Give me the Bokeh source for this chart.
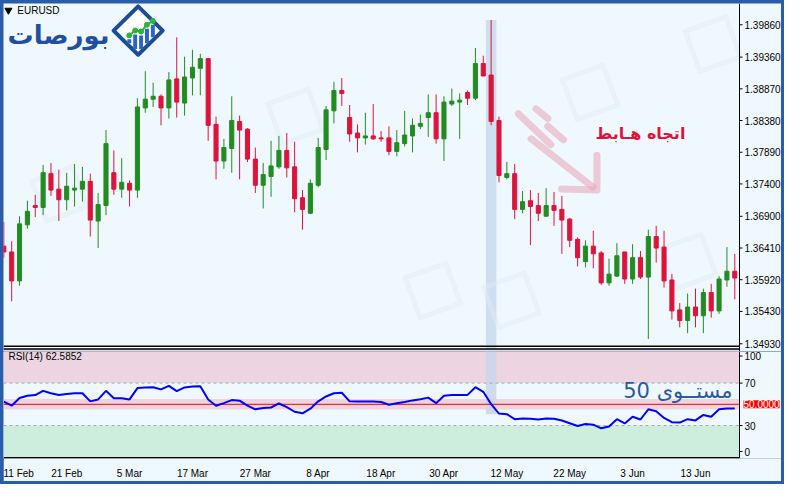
import numpy as np
from bokeh.plotting import figure
from bokeh.models import (Range1d, FixedTicker, Label, BoxAnnotation, ColumnDataSource)
from bokeh.layouts import column
from bokeh.embed import file_html
from bokeh.resources import INLINE
from bokeh.core.properties import value

# ---------------- data (EURUSD daily, 11 Feb - 20 Jun) ----------------
date_ticks = [0, 8, 16, 24, 32, 40, 48, 56, 64, 72, 80, 88]
date_labels = ["11 Feb", "21 Feb", "5 Mar", "17 Mar", "27 Mar", "8 Apr",
               "18 Apr", "30 Apr", "12 May", "22 May", "3 Jun", "13 Jun"]

open_ = [1.36439, 1.36349, 1.35901, 1.36768, 1.37066, 1.37037, 1.37559, 1.37320, 1.37156, 1.37305,
         1.37320, 1.37440, 1.36827, 1.37066, 1.37574, 1.37320, 1.37410, 1.37305, 1.38575, 1.38710,
         1.38755, 1.38575, 1.39023, 1.38650, 1.39038, 1.39188, 1.39337, 1.38321, 1.37754, 1.37948,
         1.38366, 1.38247, 1.37784, 1.37380, 1.37515, 1.37664, 1.37918, 1.37664, 1.37186, 1.36947,
         1.37380, 1.37933, 1.38530, 1.38844, 1.38426, 1.38187, 1.38112, 1.38142, 1.38112, 1.38112,
         1.37903, 1.38023, 1.38142, 1.38291, 1.38426, 1.38501, 1.38097, 1.38635, 1.38665, 1.38814,
         1.38725, 1.39262, 1.39083, 1.38381, 1.37500, 1.37559, 1.37007, 1.37141, 1.37066, 1.36902,
         1.37066, 1.37007, 1.36857, 1.36544, 1.36200, 1.36439, 1.36334, 1.35871, 1.35976, 1.36349,
         1.35931, 1.36260, 1.35961, 1.36588, 1.36424, 1.35916, 1.35453, 1.35289, 1.35498, 1.35363,
         1.35722, 1.35438, 1.35916, 1.36051]
high = [1.36812, 1.36514, 1.36902, 1.37141, 1.37231, 1.37694, 1.37724, 1.37619, 1.37574, 1.37709,
        1.37664, 1.37559, 1.37261, 1.38232, 1.37918, 1.37798, 1.37455, 1.38725, 1.39143, 1.38964,
        1.38784, 1.39128, 1.39666, 1.39367, 1.39472, 1.39412, 1.39337, 1.38441, 1.38097, 1.38755,
        1.38456, 1.38262, 1.37963, 1.37724, 1.38067, 1.38142, 1.38187, 1.38052, 1.37305, 1.37470,
        1.38112, 1.38605, 1.38979, 1.39038, 1.38620, 1.38321, 1.38501, 1.38635, 1.38217, 1.38291,
        1.38232, 1.38530, 1.38411, 1.38471, 1.38784, 1.38784, 1.38755, 1.38874, 1.38799, 1.38844,
        1.39502, 1.39382, 1.39935, 1.38441, 1.37739, 1.37709, 1.37291, 1.37305, 1.37261, 1.37335,
        1.37276, 1.37216, 1.36872, 1.36573, 1.36529, 1.36678, 1.36364, 1.36245, 1.36484, 1.36349,
        1.36469, 1.36364, 1.36693, 1.36753, 1.36678, 1.36006, 1.35558, 1.35707, 1.35782, 1.35782,
        1.35856, 1.35976, 1.36424, 1.36320]
low = [1.36260, 1.35587, 1.35827, 1.36708, 1.36887, 1.36917, 1.37216, 1.36827, 1.36992, 1.37052,
       1.37126, 1.36588, 1.36409, 1.36917, 1.37231, 1.37186, 1.37052, 1.37186, 1.38501, 1.38590,
       1.38306, 1.38411, 1.38426, 1.38456, 1.38770, 1.38770, 1.38067, 1.37470, 1.37634, 1.37574,
       1.37470, 1.37739, 1.37261, 1.37022, 1.37201, 1.37634, 1.37500, 1.36962, 1.36693, 1.36932,
       1.37350, 1.37769, 1.38336, 1.38605, 1.38052, 1.37888, 1.38008, 1.38082, 1.38052, 1.37843,
       1.37828, 1.37978, 1.37888, 1.38247, 1.38127, 1.38023, 1.37754, 1.38605, 1.38097, 1.38620,
       1.38695, 1.39068, 1.38306, 1.37425, 1.37470, 1.36857, 1.36947, 1.36454, 1.36827, 1.36902,
       1.36753, 1.36320, 1.36424, 1.36125, 1.36110, 1.36095, 1.35841, 1.35827, 1.35961, 1.35856,
       1.35856, 1.35931, 1.35005, 1.36185, 1.35797, 1.35304, 1.35184, 1.35094, 1.35184, 1.35094,
       1.35334, 1.35393, 1.35812, 1.35617]
close = [1.36349, 1.35901, 1.36783, 1.36977, 1.37037, 1.37574, 1.37305, 1.37156, 1.37365, 1.37335,
         1.37440, 1.36842, 1.37081, 1.38023, 1.37320, 1.37425, 1.37305, 1.38590, 1.38710, 1.38755,
         1.38575, 1.39008, 1.38665, 1.39053, 1.39203, 1.39337, 1.38306, 1.37754, 1.37963, 1.38381,
         1.38232, 1.37784, 1.37380, 1.37545, 1.37679, 1.37918, 1.37649, 1.37171, 1.37007, 1.37410,
         1.37963, 1.38545, 1.38844, 1.38799, 1.38172, 1.38112, 1.38142, 1.38097, 1.38097, 1.37903,
         1.38037, 1.38157, 1.38306, 1.38336, 1.38501, 1.38097, 1.38665, 1.38680, 1.38695, 1.38725,
         1.39262, 1.39068, 1.38366, 1.37530, 1.37559, 1.37007, 1.37126, 1.37052, 1.36947, 1.37066,
         1.36992, 1.36842, 1.36529, 1.36260, 1.36439, 1.36320, 1.35871, 1.36006, 1.36290, 1.35931,
         1.36260, 1.35961, 1.36588, 1.36409, 1.35901, 1.35438, 1.35289, 1.35498, 1.35363, 1.35722,
         1.35438, 1.35931, 1.36051, 1.35946]
rsi = [52.6, 48.7, 56.0, 58.0, 58.7, 62.7, 60.4, 58.7, 59.8, 60.4,
       60.4, 52.8, 54.6, 62.7, 55.7, 55.7, 54.6, 65.3, 65.9, 66.1,
       64.1, 67.4, 62.4, 65.9, 66.8, 67.0, 54.6, 48.7, 51.1, 54.0,
       53.4, 48.7, 45.3, 46.5, 47.0, 50.8, 47.4, 43.0, 41.5, 45.9,
       52.8, 57.4, 60.4, 60.9, 52.8, 52.6, 52.6, 52.6, 52.2, 49.6,
       51.1, 52.2, 53.7, 54.8, 56.3, 51.1, 58.0, 58.7, 58.9, 58.9,
       66.1, 61.8, 50.2, 41.3, 40.7, 36.0, 36.6, 36.3, 35.7, 36.6,
       36.3, 34.8, 32.2, 29.6, 31.4, 30.8, 27.4, 29.1, 36.0, 32.0,
       38.3, 35.7, 45.3, 43.5, 37.2, 33.1, 32.8, 36.0, 34.8, 40.0,
       38.3, 45.3, 46.1, 46.1]
price_ticks = [1.39860, 1.39360, 1.38870, 1.38380, 1.37890, 1.37400,
               1.36900, 1.36410, 1.35920, 1.35430, 1.34930]
rsi_levels = [30, 50, 70]
rsi_scale_labels = ["0", "30", "70", "100"]
highlight_idx = 62          # 8 May candle
band_rsi_bottom = 40.7

# ---------------- styling ----------------
BG = "#f0f8ff"
FRAME = "#2a5caa"
UP = "#228b22"
DN = "#dc143c"
AXFONT = "Liberation Sans"
AR_FONT = "DejaVu Sans"

W_IN = 778
H_MAIN = 348
H_RSI = 130
SCALE_W = 42                       # width of the price-scale strip

idx = np.arange(len(close))
o = np.array(open_); c = np.array(close)
colors = [UP if cc >= oo else DN for oo, cc in zip(o, c)]
src = ColumnDataSource(dict(x=idx, o=o, c=c, h=high, l=low,
                            top=np.maximum(o, c), bot=np.minimum(o, c), col=colors))

X0, X1 = -0.04, 93.6               # chart area (bars), X1 = scale line
PX = (W_IN - SCALE_W) / (X1 - X0)  # pixels per bar
X_END = X0 + W_IN / PX
x_rng = Range1d(X0, X_END)

# helpers to place decorations (reference-pixel -> data)
def X(px):
    return (px - 3.3) / 8.0

def Y(py):
    return 1.402335 - 0.00014939 * py

def R(py):
    return 102.4 - (py - 360) / 1.15

SPLIT = 363                         # reference row where the RSI panel begins
y_lo, y_hi = Y(SPLIT), Y(3)
r_lo, r_hi = R(479), R(SPLIT)

# ---------------- main price panel ----------------
p = figure(width=W_IN, height=H_MAIN, x_range=x_rng, y_range=Range1d(y_lo, y_hi),
           output_backend="svg", toolbar_location=None,
           x_axis_location=None, y_axis_location=None,
           min_border_left=0, min_border_right=0, min_border_top=0, min_border_bottom=0,
           background_fill_color=BG, border_fill_color=BG, outline_line_color=None)
p.grid.visible = False

# RSI window background strip (top part that lies inside this figure)
p.quad(left=[X0], right=[X1], bottom=[y_lo], top=[Y(360.5)], fill_color="#ecd5e1",
       line_color=None)

# highlighted day band
p.vbar(x=[highlight_idx], width=1.34, top=[high[highlight_idx]], bottom=[y_lo],
       fill_color="#cfdef0", line_color=None)

# faint watermark icons
def wm_icon(px, py, s=22, ang=-0.35):
    pts = [(-s, -s), (s, -s), (s, s), (-s, s)]
    ca, sa = np.cos(ang), np.sin(ang)
    xs = [X(px + ca * a - sa * b) for a, b in pts]
    ys = [Y(py + sa * a + ca * b) for a, b in pts]
    return xs, ys

for (wx, wy) in [(600, 95), (700, 270), (300, 120), (520, 310), (440, 300), (60, 200), (725, 45)]:
    xs, ys = wm_icon(wx, wy)
    p.patch(xs, ys, fill_color=None, line_color="#e2eaf3", line_width=5, line_join="round",
            line_alpha=0.5)

# candles
p.segment(x0="x", y0="h", x1="x", y1="l", line_color="col", line_width=1, source=src)
p.vbar(x="x", width=0.52, top="top", bottom="bot", fill_color="col", line_color="col",
       line_width=1, source=src)

# price scale: line, ticks, labels
p.segment(x0=[X1], x1=[X1], y0=[y_lo], y1=[y_hi], line_color="black", line_width=1)
p.segment(x0=[X1] * len(price_ticks), x1=[X1 + 3 / PX] * len(price_ticks),
          y0=price_ticks, y1=price_ticks, line_color="black", line_width=1)
p.text(x=[X1 + 5 / PX] * len(price_ticks), y=price_ticks,
       text=[f"{t:.5f}" for t in price_ticks], text_font=value(AXFONT),
       text_font_size="10px", text_color="black", text_baseline="middle", text_align="left")
# window separator (double line)
p.segment(x0=[X0, X0], x1=[X1, X1], y0=[Y(357.5), Y(360.3)], y1=[Y(357.5), Y(360.3)],
          line_color="black", line_width=1.5)

# down arrow decoration
arrow_xs = [[X(527), X(560)], [X(545), X(557)], [X(557), X(573)],
            [X(540), X(603)], [X(571), X(607), X(607)]]
arrow_ys = [[Y(117), Y(149)], [Y(112), Y(122)], [Y(130), Y(144)],
            [Y(143), Y(193)], [Y(195), Y(196), Y(160)]]
p.multi_line(arrow_xs, arrow_ys, line_color="#e8a2b4", line_alpha=0.55, line_width=7,
             line_cap="round", line_join="round")

p.add_layout(Label(x=X(697), y=Y(137), text="اتجاه هـابط", text_font=AR_FONT,
                   text_font_size="16px", text_font_style="bold", text_color=DN,
                   text_align="right", text_baseline="middle"))

# symbol caption
p.scatter(x=[X(8)], y=[Y(10)], marker="inverted_triangle", size=7, color="black")
p.add_layout(Label(x=X(17), y=Y(10), text="EURUSD", text_font=AXFONT,
                   text_font_size="10px", text_color="black", text_baseline="middle"))

# logo
p.add_layout(Label(x=X(111), y=Y(36), text="بورصات", text_font=AR_FONT,
                   text_font_size="26px", text_font_style="bold", text_color="#1f4f9e",
                   text_align="right", text_baseline="middle"))
cx, cy, rr = 140, 31, 25
p.patch([X(cx), X(cx + rr), X(cx), X(cx - rr)], [Y(cy - rr), Y(cy), Y(cy + rr), Y(cy)],
        fill_color="white", line_color="#1e4d97", line_width=4, line_join="round")
bar_px = [131, 137, 143, 149, 155]
bar_top = [40, 35, 36, 29, 25]
bar_bot = [cy + rr - abs(b - cx) - 3 for b in bar_px]
p.vbar(x=[X(b) for b in bar_px], width=0.5, top=[Y(t) for t in bar_top],
       bottom=[Y(b) for b in bar_bot], fill_color="#2d66c2", line_color=None)
p.line([X(b) for b in bar_px], [Y(t - 4) for t in bar_top], line_color="#2bb33a", line_width=2)
p.scatter([X(b) for b in bar_px], [Y(t - 4) for t in bar_top], size=5, color="#2bb33a")

# ---------------- RSI panel ----------------
r = figure(width=W_IN, height=H_RSI, x_range=x_rng, y_range=Range1d(r_lo, r_hi),
           output_backend="svg", toolbar_location=None, y_axis_location=None,
           min_border_left=0, min_border_right=0, min_border_top=0, min_border_bottom=17,
           background_fill_color=BG, border_fill_color=BG, outline_line_color=None)
r.grid.visible = False
r.add_layout(BoxAnnotation(left=X0, right=X1, bottom=rsi_levels[2], fill_color="#ecd5e1",
                           fill_alpha=1, line_color=None, level="underlay"))
r.add_layout(BoxAnnotation(left=X0, right=X1, top=rsi_levels[0], fill_color="#cdeedd",
                           fill_alpha=1, line_color=None, level="underlay"))
r.add_layout(BoxAnnotation(left=X0, right=X1, bottom=rsi_levels[1] - 5, top=rsi_levels[1] + 5,
                           fill_color="#ecd5e1", fill_alpha=1, line_color=None, level="underlay"))
r.vbar(x=[highlight_idx], width=1.34, top=[r_hi], bottom=[band_rsi_bottom],
       fill_color="#c9d6ea", fill_alpha=0.85, line_color=None)
r.segment(x0=[X0, X0], x1=[X1, X1], y0=[rsi_levels[0], rsi_levels[2]],
          y1=[rsi_levels[0], rsi_levels[2]], line_color="#a8a8a8", line_dash="3 3", line_width=1)
r.segment(x0=[X0], x1=[X1], y0=[rsi_levels[1]], y1=[rsi_levels[1]],
          line_color="#ff0000", line_width=1)
r.line(idx, rsi, line_color="#0000ff", line_width=2)

# frame lines (bottom, scale line)
r.segment(x0=[X0], x1=[X1], y0=[R(478.3)], y1=[R(478.3)], line_color="black", line_width=1.5)
r.segment(x0=[X1], x1=[X1], y0=[R(478.3)], y1=[r_hi], line_color="black", line_width=1)

# RSI scale (ticks + labels); end labels sit just inside the panel
rsi_label_pos = [5.5, rsi_levels[0], rsi_levels[2], 95.5]
r.segment(x0=[X1] * 4, x1=[X1 + 3 / PX] * 4, y0=rsi_label_pos, y1=rsi_label_pos,
          line_color="black", line_width=1)
r.text(x=[X1 + 5 / PX] * 4, y=rsi_label_pos, text=rsi_scale_labels,
       text_font=value(AXFONT), text_font_size="10px", text_color="black",
       text_baseline="middle", text_align="left")
r.add_layout(Label(x=X1 + 4 / PX, y=rsi_levels[1], text="50.0000", text_font=AXFONT,
                   text_font_size="10px", text_color="white", text_baseline="middle",
                   background_fill_color="#ff0000"))

xa = r.xaxis[0]
xa.ticker = FixedTicker(ticks=date_ticks)
xa.major_label_overrides = {t: s for t, s in zip(date_ticks, date_labels)}
xa.major_tick_line_color = None
xa.minor_tick_line_color = None
xa.axis_line_color = None
xa.major_label_text_font = AXFONT
xa.major_label_text_font_size = "10px"
xa.major_label_text_color = "black"
xa.major_label_text_align = "left"
xa.major_label_standoff = 3

r.add_layout(Label(x=X(8), y=R(368), text="RSI(14) 62.5852", text_font=AXFONT,
                   text_font_size="10px", text_color="black", text_baseline="middle"))
r.add_layout(Label(x=X(745), y=R(406), text="مستــوى 50", text_font=AR_FONT,
                   text_font_size="21px", text_color="#2c5a9f",
                   text_align="right", text_baseline="middle"))

layout = column(p, r, spacing=0,
                styles={"background-color": FRAME, "padding": "3px"})

open("out.html", "w").write(file_html(layout, INLINE))
